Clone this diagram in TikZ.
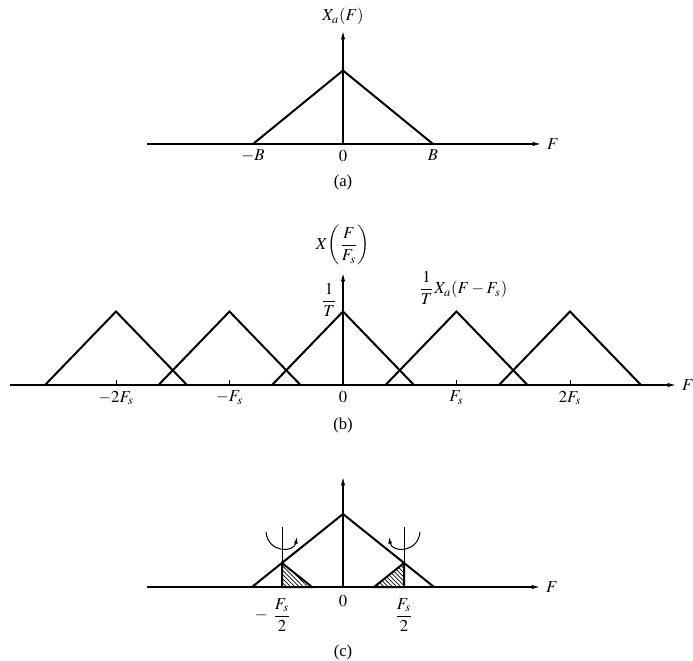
\documentclass[tikz,border=0pt]{standalone}
\usepackage{amsmath}
\usepackage{mathptmx}
\usepackage{fontspec}
\setmainfont{Liberation Serif}
\usetikzlibrary{arrows.meta,patterns.meta,positioning}
\tikzset{
  axis/.style={line width=0.7pt, -{Latex[length=5pt,width=2.6pt]}},
  spec/.style={line width=1.2pt, line join=miter},
  fold/.style={line width=0.6pt, -{Latex[length=4pt,width=2.4pt]}},
  hatch/.style={pattern={Lines[angle=-45,distance=1.8pt,line width=0.45pt]}},
}
\begin{document}
\begin{tikzpicture}[x=0.6pt, y=-0.6pt]
  \useasboundingbox (0,0) rectangle (693,661);
  % (a) band limited analog spectrum
  \coordinate (aL) at (147,144); \coordinate (aR) at (541,144);
  \coordinate (a0) at (343,144); \coordinate (aT) at (343,31);
  \draw[axis] (aL) -- (aR) node[right] (aF) {$F$};
  \draw[axis] (a0) -- (aT) node[above] (aY) {$X_a(F)$};
  \draw[spec] (253,144) -- (343,70.5) -- (433,144);
  \node[below] (amB) at (253,144) {$-B$};
  \node[below] (a00) at (343,144) {$0$};
  \node[below] (apB) at (433,144) {$B$};
  \node (acap) at (343,182) {(a)};
  % (b) periodic repetition with spacing Fs
  \coordinate (bL) at (10,385); \coordinate (bR) at (676,385);
  \coordinate (b0) at (343,385); \coordinate (bT) at (343,273);
  \draw[axis] (bL) -- (bR) node[right] (bF) {$F$};
  \draw[axis] (b0) -- (bT) node[above=1pt] (bY) {$X\!\left(\dfrac{F}{F_s}\right)$};
  \foreach \c in {116,229.5,343,456.5,570}
    \draw[spec] (\c-71,385) -- (\c,311.5) -- (\c+71,385);
  \foreach \c in {116,229.5,456.5,570}
    \draw[line width=0.6pt] (\c,385) -- (\c,380);
  \node[below] (bm2) at (116,385) {$-2F_s$};
  \node[below] (bm1) at (229.5,385) {$-F_s$};
  \node[below] (b00) at (343,385) {$0$};
  \node[below] (bp1) at (456.5,385) {$F_s$};
  \node[below] (bp2) at (570,385) {$2F_s$};
  \node (bamp) at (329,300) {$\dfrac{1}{T}$};
  \node[anchor=west] (bshift) at (413,288) {$\dfrac{1}{T}X_a(F-F_s)$};
  \node (bcap) at (343,425) {(b)};
  % (c) folding about +-Fs/2
  \coordinate (cL) at (147,587); \coordinate (cR) at (540,587);
  \coordinate (c0) at (343,587); \coordinate (cT) at (343,477);
  \coordinate (flB) at (282,587); \coordinate (flT) at (282,527);
  \coordinate (frB) at (404,587); \coordinate (frT) at (404,527);
  \draw[axis] (cL) -- (cR) node[right] (cF) {$F$};
  \draw[axis] (c0) -- (cT);
  \draw[spec, hatch] (282,563) -- (312,587) -- (282,587) -- cycle;
  \draw[spec, hatch] (404,563) -- (374,587) -- (404,587) -- cycle;
  \draw[spec] (252,587) -- (343,514) -- (434,587);
  \draw[line width=0.6pt] (flB) -- (flT);
  \draw[line width=0.6pt] (frB) -- (frT);
  \draw[fold] (266,532) .. controls (268,553) and (294,553) .. (297,537);
  \draw[fold] (420,532) .. controls (418,553) and (392,553) .. (389,537);
  \node (c00) at (343,601) {$0$};
  \node (cml) at (282,615) {$\dfrac{F_s}{2}$};
  \node[left=-4pt of cml] (cmin) {$-$};
  \node (cpl) at (404,615) {$\dfrac{F_s}{2}$};
  \node (ccap) at (343,652) {(c)};
\end{tikzpicture}
\end{document}
